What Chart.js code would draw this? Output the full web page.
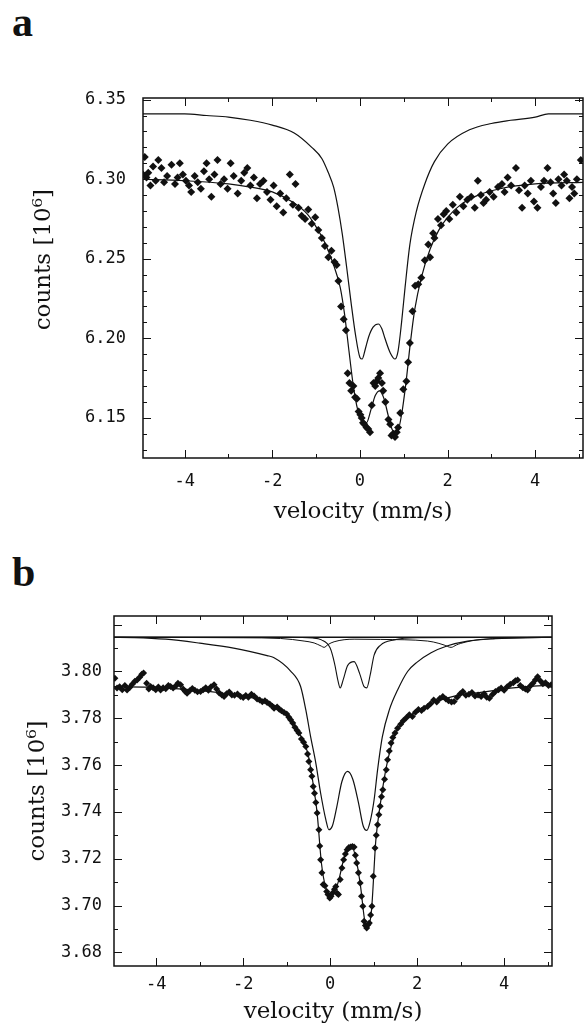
<!DOCTYPE html>
<html>
<head>
<meta charset="utf-8">
<script src="https://cdn.jsdelivr.net/npm/chart.js@4.4.1/dist/chart.umd.min.js"></script>
<style>
  html, body { margin: 0; padding: 0; background: #fff; }
  body { width: 587px; height: 1032px; position: relative; overflow: hidden; }
  canvas { position: absolute; left: 0; }
  .panel { position: absolute; left: 12px; font-family: 'Liberation Serif', serif; font-weight: bold; font-size: 42px; line-height: 42px; color: #111; }
</style>
</head>
<body>
<div class="panel" style="top:1px">a</div>
<div class="panel" style="top:551px">b</div>
<canvas id="chartA" width="587" height="480" style="top:60px"></canvas>
<canvas id="chartB" width="587" height="472" style="top:560px"></canvas>
<script>
// ---- panel a: measured spectrum ----
const VEL_A = [-4.95,-4.91,-4.87,-4.83,-4.78,-4.72,-4.66,-4.60,-4.53,-4.47,-4.40,-4.30,-4.22,-4.16,-4.11,-4.04,-3.97,-3.90,-3.85,-3.77,-3.70,-3.63,-3.56,-3.50,-3.44,-3.39,-3.32,-3.25,-3.18,-3.10,-3.02,-2.95,-2.88,-2.79,-2.71,-2.64,-2.57,-2.50,-2.42,-2.35,-2.28,-2.20,-2.12,-2.04,-1.97,-1.90,-1.82,-1.75,-1.68,-1.60,-1.53,-1.47,-1.40,-1.33,-1.25,-1.18,-1.10,-1.02,-0.95,-0.87,-0.80,-0.72,-0.65,-0.58,-0.53,-0.49,-0.43,-0.37,-0.32,-0.28,-0.24,-0.20,-0.15,-0.11,-0.07,-0.03,0.01,0.04,0.07,0.10,0.15,0.19,0.23,0.27,0.31,0.35,0.38,0.42,0.46,0.50,0.53,0.58,0.65,0.69,0.72,0.76,0.80,0.84,0.87,0.92,0.99,1.06,1.10,1.14,1.20,1.26,1.33,1.40,1.48,1.56,1.60,1.67,1.70,1.78,1.85,1.91,1.97,2.04,2.12,2.20,2.28,2.36,2.45,2.54,2.62,2.69,2.76,2.82,2.88,2.96,3.05,3.15,3.24,3.30,3.37,3.45,3.56,3.63,3.70,3.76,3.83,3.90,3.97,4.05,4.13,4.20,4.28,4.35,4.41,4.47,4.53,4.60,4.66,4.72,4.78,4.84,4.89,4.95,5.04];
const COUNTS_A = [6.303,6.314,6.301,6.304,6.296,6.308,6.299,6.312,6.307,6.298,6.302,6.309,6.297,6.301,6.310,6.303,6.299,6.296,6.292,6.302,6.298,6.294,6.305,6.310,6.300,6.289,6.303,6.312,6.297,6.300,6.294,6.310,6.302,6.291,6.299,6.304,6.307,6.296,6.301,6.288,6.297,6.299,6.292,6.287,6.296,6.283,6.291,6.279,6.288,6.303,6.284,6.297,6.282,6.277,6.275,6.281,6.272,6.276,6.268,6.263,6.258,6.251,6.255,6.248,6.246,6.236,6.220,6.212,6.205,6.178,6.172,6.167,6.170,6.163,6.162,6.154,6.152,6.150,6.147,6.146,6.144,6.143,6.141,6.158,6.172,6.170,6.173,6.175,6.178,6.172,6.167,6.160,6.149,6.146,6.139,6.140,6.138,6.141,6.144,6.153,6.168,6.173,6.185,6.197,6.217,6.233,6.234,6.238,6.249,6.259,6.251,6.266,6.263,6.275,6.271,6.278,6.280,6.275,6.284,6.279,6.289,6.283,6.287,6.289,6.282,6.299,6.290,6.285,6.287,6.292,6.289,6.295,6.297,6.292,6.301,6.296,6.307,6.293,6.282,6.296,6.291,6.299,6.286,6.282,6.295,6.299,6.307,6.298,6.291,6.285,6.300,6.296,6.303,6.299,6.288,6.295,6.291,6.300,6.312];
// fit through the data
const FIT_VEL_A = [-5,-4,-3,-2.5,-2,-1.5,-1.2,-1.0,-0.8,-0.6,-0.45,-0.35,-0.25,-0.15,-0.05,0.05,0.15,0.25,0.35,0.45,0.55,0.65,0.75,0.85,0.95,1.05,1.15,1.25,1.4,1.6,1.8,2.0,2.3,2.7,3.2,4.0,5.1];
const FIT_A = [6.300,6.299,6.297,6.295,6.292,6.285,6.278,6.270,6.260,6.246,6.232,6.215,6.192,6.170,6.155,6.148,6.147,6.155,6.164,6.167,6.162,6.151,6.142,6.141,6.152,6.172,6.197,6.218,6.238,6.256,6.268,6.276,6.284,6.290,6.294,6.297,6.298];
// upper (offset) component curve
const SUB_VEL_A = [-5,-4,-3.5,-3,-2.5,-2,-1.5,-1.1,-0.87,-0.72,-0.6,-0.5,-0.4,-0.3,-0.2,-0.1,0.0,0.05,0.12,0.2,0.3,0.42,0.5,0.57,0.69,0.8,0.87,0.95,1.03,1.14,1.29,1.48,1.7,2.0,2.5,3.0,3.44,4.0,4.3,5.1];
const SUB_A = [6.341,6.341,6.340,6.339,6.337,6.334,6.329,6.320,6.313,6.304,6.295,6.282,6.265,6.244,6.222,6.202,6.188,6.187,6.193,6.201,6.207,6.209,6.206,6.200,6.191,6.187,6.192,6.210,6.232,6.259,6.280,6.297,6.311,6.322,6.331,6.335,6.337,6.339,6.341,6.341];

// ---- panel b: measured spectrum ----
const VEL_B = [-4.95,-4.90,-4.84,-4.78,-4.72,-4.67,-4.61,-4.55,-4.49,-4.44,-4.38,-4.33,-4.29,-4.22,-4.17,-4.13,-4.07,-4.01,-3.95,-3.90,-3.84,-3.78,-3.72,-3.67,-3.61,-3.55,-3.50,-3.44,-3.38,-3.33,-3.29,-3.23,-3.17,-3.11,-3.05,-2.98,-2.92,-2.86,-2.80,-2.74,-2.67,-2.61,-2.55,-2.49,-2.44,-2.38,-2.32,-2.26,-2.20,-2.13,-2.06,-2.00,-1.94,-1.88,-1.81,-1.75,-1.68,-1.62,-1.56,-1.50,-1.45,-1.39,-1.33,-1.29,-1.22,-1.17,-1.12,-1.06,-1.00,-0.95,-0.91,-0.86,-0.81,-0.76,-0.72,-0.66,-0.61,-0.56,-0.52,-0.49,-0.45,-0.42,-0.39,-0.36,-0.33,-0.30,-0.26,-0.24,-0.22,-0.19,-0.16,-0.12,-0.08,-0.05,-0.01,0.02,0.06,0.10,0.13,0.16,0.19,0.23,0.27,0.31,0.35,0.39,0.43,0.47,0.51,0.55,0.58,0.61,0.65,0.69,0.72,0.75,0.78,0.81,0.84,0.87,0.90,0.93,0.96,0.99,1.03,1.06,1.09,1.12,1.15,1.18,1.21,1.25,1.29,1.32,1.36,1.40,1.44,1.49,1.55,1.62,1.68,1.75,1.82,1.89,1.96,2.03,2.10,2.16,2.24,2.31,2.38,2.45,2.52,2.59,2.66,2.72,2.79,2.85,2.92,2.99,3.05,3.12,3.19,3.26,3.33,3.40,3.47,3.54,3.60,3.66,3.73,3.80,3.87,3.93,4.00,4.07,4.14,4.21,4.26,4.31,4.37,4.43,4.49,4.54,4.60,4.66,4.72,4.77,4.83,4.89,4.95,5.02,5.08];
const COUNTS_B = [3.7971,3.7929,3.7935,3.7922,3.7940,3.7921,3.7932,3.7946,3.7958,3.7964,3.7975,3.7988,3.7993,3.7950,3.7925,3.7936,3.7930,3.7922,3.7934,3.7921,3.7930,3.7926,3.7940,3.7936,3.7929,3.7938,3.7950,3.7943,3.7925,3.7915,3.7907,3.7918,3.7927,3.7920,3.7913,3.7914,3.7922,3.7930,3.7920,3.7935,3.7943,3.7925,3.7908,3.7900,3.7893,3.7905,3.7912,3.7900,3.7898,3.7904,3.7893,3.7889,3.7897,3.7890,3.7903,3.7895,3.7882,3.7878,3.7871,3.7875,3.7868,3.7861,3.7852,3.7843,3.7848,3.7839,3.7832,3.7825,3.7818,3.7805,3.7794,3.7780,3.7762,3.7748,3.7737,3.7712,3.7698,3.7680,3.7648,3.7616,3.7580,3.7552,3.7509,3.7480,3.7440,3.7395,3.7324,3.7255,3.7196,3.7140,3.7090,3.7085,3.7060,3.7047,3.7032,3.7040,3.7055,3.7070,3.7082,3.7053,3.7047,3.7111,3.7161,3.7196,3.7220,3.7239,3.7248,3.7250,3.7252,3.7250,3.7215,3.7182,3.7140,3.7097,3.7040,3.6997,3.6933,3.6915,3.6904,3.6918,3.6926,3.6960,3.6997,3.7125,3.7246,3.7300,3.7345,3.7388,3.7424,3.7465,3.7495,3.7540,3.7580,3.7623,3.7660,3.7695,3.7718,3.7737,3.7758,3.7775,3.7790,3.7802,3.7815,3.7808,3.7826,3.7838,3.7833,3.7843,3.7850,3.7862,3.7878,3.7870,3.7885,3.7893,3.7882,3.7875,3.7870,3.7872,3.7890,3.7905,3.7914,3.7898,3.7903,3.7910,3.7895,3.7900,3.7893,3.7905,3.7890,3.7886,3.7902,3.7915,3.7922,3.7929,3.7920,3.7935,3.7945,3.7952,3.7960,3.7964,3.7940,3.7930,3.7925,3.7921,3.7938,3.7950,3.7965,3.7978,3.7960,3.7948,3.7952,3.7940,3.7943];
const FIT_VEL_B = [-5,-4,-3,-2.5,-2,-1.5,-1.2,-1.0,-0.8,-0.6,-0.5,-0.4,-0.3,-0.2,-0.1,0.0,0.1,0.2,0.3,0.4,0.5,0.6,0.7,0.8,0.87,0.95,1.05,1.15,1.3,1.5,1.75,2.0,2.5,3.0,3.5,4.0,4.5,5.1];
const FIT_B = [3.7935,3.7932,3.7918,3.7908,3.7895,3.7873,3.7847,3.7820,3.7765,3.7695,3.7640,3.7530,3.7395,3.7180,3.7075,3.7045,3.7060,3.7110,3.7190,3.7240,3.7250,3.7195,3.7080,3.6930,3.6910,3.6980,3.7280,3.7430,3.7600,3.7735,3.7800,3.7830,3.7875,3.7900,3.7912,3.7925,3.7935,3.7942];
// component curves (offset above the spectrum)
const BASE_VEL_B = [-5, 5.1];
const BASE_B = [3.8146, 3.8146];
const BIG_VEL_B = [-5,-4.5,-3.78,-3.0,-2.22,-1.45,-1.3,-0.91,-0.68,-0.56,-0.45,-0.33,-0.22,-0.1,-0.03,0.05,0.15,0.27,0.40,0.52,0.65,0.76,0.84,0.92,1.01,1.09,1.2,1.36,1.55,1.78,2.0,2.32,2.7,3.16,3.8,4.5,5.1];
const BIG_B = [3.8146,3.8145,3.8138,3.8121,3.8100,3.8068,3.8060,3.8002,3.7936,3.7836,3.7722,3.7609,3.7481,3.7367,3.7324,3.7340,3.7420,3.7530,3.7573,3.7540,3.7440,3.7340,3.7321,3.7360,3.7452,3.7580,3.7722,3.7836,3.7921,3.8000,3.8040,3.8080,3.8110,3.8130,3.8140,3.8145,3.8146];
const SMALL_VEL_B = [-5,-1,-0.4,-0.2,0.0,0.1,0.18,0.23,0.3,0.4,0.55,0.68,0.78,0.84,0.92,1.01,1.16,1.47,2,5.1];
const SMALL_B = [3.8146,3.8146,3.8143,3.8135,3.8100,3.8035,3.7960,3.7930,3.7965,3.8025,3.8042,3.7990,3.7935,3.7930,3.7985,3.8070,3.8113,3.8135,3.8144,3.8146];
const WEAK_VEL_B = [-5,-2,-1.14,-0.6,-0.37,-0.2,-0.14,-0.05,0.09,0.55,1.16,2.24,2.5,2.62,2.78,2.9,3.0,3.47,4.54,5.1];
const WEAK_B = [3.8146,3.8144,3.8141,3.8130,3.8122,3.8108,3.8103,3.8115,3.8127,3.8138,3.8137,3.8130,3.8120,3.8113,3.8103,3.8113,3.8120,3.8137,3.8144,3.8146];

// ticks
const X_MAJOR = [-4, -2, 0, 2, 4];
const X_MINOR = [-5, -3, -1, 1, 3, 5];
const Y_MAJOR_A = [6.15, 6.20, 6.25, 6.30, 6.35];
const Y_MINOR_A = [6.13, 6.14, 6.16, 6.17, 6.18, 6.19, 6.21, 6.22, 6.23, 6.24, 6.26, 6.27, 6.28, 6.29, 6.31, 6.32, 6.33, 6.34];
const Y_LABELS_B = [3.68, 3.70, 3.72, 3.74, 3.76, 3.78, 3.80];
const Y_MAJOR_B = [3.68, 3.70, 3.72, 3.74, 3.76, 3.78, 3.80, 3.82];
const Y_MINOR_B = [3.69, 3.71, 3.73, 3.75, 3.77, 3.79, 3.81];

const pts = (xs, ys) => xs.map((x, i) => ({ x: x, y: ys[i] }));
const INK = '#111';
const tickFont = { family: "'DejaVu Sans Mono', monospace", size: 17 };
const titleFont = { family: "'DejaVu Serif', serif", size: 23 };

// box round the plot with ticks pointing inwards on all four sides
const frameTicks = {
  id: 'frameTicks',
  afterDraw(chart, args, opts) {
    const { ctx, chartArea: a, scales: { x, y } } = chart;
    ctx.save();
    ctx.strokeStyle = INK;
    ctx.lineWidth = 1.5;
    ctx.strokeRect(a.left, a.top, a.right - a.left, a.bottom - a.top);
    ctx.lineWidth = 1;
    ctx.beginPath();
    const vx = (list, len) => list.forEach(v => {
      const px = Math.round(x.getPixelForValue(v)) + 0.5;
      if (px < a.left || px > a.right) return;
      ctx.moveTo(px, a.bottom); ctx.lineTo(px, a.bottom - len);
      ctx.moveTo(px, a.top); ctx.lineTo(px, a.top + len);
    });
    const hy = (list, len) => list.forEach(v => {
      const py = Math.round(y.getPixelForValue(v)) + 0.5;
      if (py < a.top || py > a.bottom) return;
      ctx.moveTo(a.left, py); ctx.lineTo(a.left + len, py);
      ctx.moveTo(a.right, py); ctx.lineTo(a.right - len, py);
    });
    vx(opts.xMajor, 8); vx(opts.xMinor, 4);
    hy(opts.yMajor, 8); hy(opts.yMinor, 4);
    ctx.stroke();
    ctx.restore();
  }
};

function curve(data, width) {
  return { data: data, showLine: true, borderColor: INK, borderWidth: width, pointRadius: 0, cubicInterpolationMode: 'monotone', fill: false };
}
function dots(data, r) {
  return { data: data, showLine: false, pointStyle: 'rectRot', pointRadius: r, pointBackgroundColor: INK, pointBorderWidth: 0 };
}

function makeChart(id, cfg) {
  return new Chart(document.getElementById(id), {
    type: 'scatter',
    data: { datasets: cfg.datasets },
    options: {
      responsive: false,
      animation: false,
      devicePixelRatio: 1,
      layout: { padding: cfg.padding },
      plugins: { legend: { display: false }, tooltip: { enabled: false }, frameTicks: cfg.ticks },
      scales: {
        x: {
          type: 'linear', min: cfg.xMin, max: cfg.xMax,
          afterBuildTicks: s => { s.ticks = X_MAJOR.map(v => ({ value: v })); },
          afterFit: s => { s.height = cfg.xHeight; },
          grid: { display: false, drawTicks: false },
          border: { display: false },
          ticks: { font: tickFont, color: INK, padding: cfg.xTickPad, maxRotation: 0, callback: v => String(v) },
          title: { display: true, text: 'velocity (mm/s)', font: titleFont, color: INK, padding: { top: 0, bottom: cfg.xTitlePad } }
        },
        y: {
          type: 'linear', min: cfg.yMin, max: cfg.yMax,
          afterBuildTicks: s => { s.ticks = cfg.yLabels.map(v => ({ value: v })); },
          afterFit: s => { s.width = cfg.yWidth; },
          grid: { display: false, drawTicks: false },
          border: { display: false },
          ticks: { font: tickFont, color: INK, padding: cfg.yTickPad, callback: v => v.toFixed(2) },
          title: { display: true, text: cfg.yTitle, font: titleFont, color: INK, padding: { top: cfg.yTitlePad, bottom: 0 } }
        }
      }
    },
    plugins: [frameTicks]
  });
}

makeChart('chartA', {
  datasets: [
    curve(pts(SUB_VEL_A, SUB_A), 1.2),
    curve(pts(FIT_VEL_A, FIT_A), 1.2),
    dots(pts(VEL_A, COUNTS_A), 4)
  ],
  padding: { top: 38, right: 2, left: 0, bottom: 0 },
  xMin: -4.95, xMax: 5.09, yMin: 6.1248, yMax: 6.351,
  xHeight: 82, yWidth: 143, xTickPad: 13, xTitlePad: 14, yTickPad: 17, yTitlePad: 30,
  yTitle: '     counts [10\u2076]',
  yLabels: Y_MAJOR_A,
  ticks: { xMajor: X_MAJOR, xMinor: X_MINOR, yMajor: Y_MAJOR_A, yMinor: Y_MINOR_A }
});

makeChart('chartB', {
  datasets: [
    curve(pts(BASE_VEL_B, BASE_B), 1.4),
    curve(pts(WEAK_VEL_B, WEAK_B), 1),
    curve(pts(SMALL_VEL_B, SMALL_B), 1.1),
    curve(pts(BIG_VEL_B, BIG_B), 1.2),
    curve(pts(FIT_VEL_B, FIT_B), 1.2),
    dots(pts(VEL_B, COUNTS_B), 3.5)
  ],
  padding: { top: 56, right: 35, left: 0, bottom: 0 },
  xMin: -4.97, xMax: 5.1, yMin: 3.6742, yMax: 3.8237,
  xHeight: 66, yWidth: 114, xTickPad: 8, xTitlePad: 6, yTickPad: 12, yTitlePad: 24,
  yTitle: 'counts [10\u2076]',
  yLabels: Y_LABELS_B,
  ticks: { xMajor: X_MAJOR, xMinor: X_MINOR, yMajor: Y_MAJOR_B, yMinor: Y_MINOR_B }
});
</script>
</body>
</html>
